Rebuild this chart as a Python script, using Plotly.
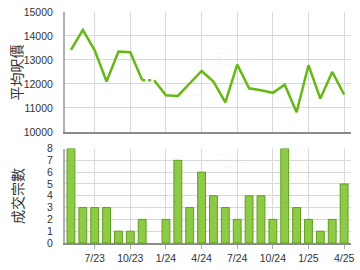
import plotly.graph_objects as go

months = ["5/23", "6/23", "7/23", "8/23", "9/23", "10/23", "11/23", "12/23",
          "1/24", "2/24", "3/24", "4/24", "5/24", "6/24", "7/24", "8/24",
          "9/24", "10/24", "11/24", "12/24", "1/25", "2/25", "3/25", "4/25"]
price = [13420, 14250, 13400, 12100, 13350, 13320, 12150, 12150,
         11530, 11500, 12040, 12540, 12100, 11230, 12810, 11820,
         11740, 11630, 11970, 10820, 12780, 11390, 12500, 11560]
counts = [8, 3, 3, 3, 1, 1, 2, 0, 2, 7, 3, 6, 4, 3, 2, 4, 4, 2, 8, 3, 2, 1, 2, 5]
tick_labels = ["7/23", "10/23", "1/24", "4/24", "7/24", "10/24", "1/25", "4/25"]
price_ticks = [10000, 11000, 12000, 13000, 14000, 15000]
count_ticks = [0, 1, 2, 3, 4, 5, 6, 7, 8]

line_color = "#66b814"
gap_idx = 7  # month with no deals; price carried forward (dotted)

fig = go.Figure()

fig.add_trace(go.Scatter(x=months[:gap_idx], y=price[:gap_idx], mode="lines",
                         line=dict(color=line_color, width=2.5),
                         xaxis="x", yaxis="y", showlegend=False))
fig.add_trace(go.Scatter(x=months[gap_idx:], y=price[gap_idx:], mode="lines",
                         line=dict(color=line_color, width=2.5),
                         xaxis="x", yaxis="y", showlegend=False))
fig.add_trace(go.Scatter(x=months[gap_idx - 1:gap_idx + 1], y=price[gap_idx - 1:gap_idx + 1],
                         mode="lines", line=dict(color=line_color, width=2.5, dash="dot"),
                         xaxis="x", yaxis="y", showlegend=False))

fig.add_trace(go.Bar(x=months, y=counts, width=0.66,
                     marker=dict(color="#8fca46",
                                 line=dict(color="#5e9f1c",
                                           width=[1 if c else 0 for c in counts])),
                     xaxis="x2", yaxis="y2", showlegend=False))

tick_font = dict(family="Liberation Sans, Arial, sans-serif", size=10.5, color="#333333")
xr = [-0.5, 23.58]
common_x = dict(type="category", range=xr, tickmode="array", tickvals=tick_labels,
                showgrid=True, gridcolor="#d9d9d9", gridwidth=1,
                showline=True, linecolor="#8a8a8a", linewidth=2, zeroline=False)
common_y = dict(showgrid=True, gridcolor="#d9d9d9", showline=True, linecolor="#b0b0b0",
                linewidth=2, zeroline=False, ticks="", tickfont=tick_font,
                ticklabelstandoff=8, tickmode="array")

fig.update_layout(
    width=360, height=270,
    margin=dict(l=65, r=6, t=7, b=26),
    paper_bgcolor="white", plot_bgcolor="white",
    font=dict(family="Liberation Sans, Arial, sans-serif", color="#333333"),
    xaxis=dict(**common_x, domain=[0, 1], anchor="y", showticklabels=False, ticks=""),
    xaxis2=dict(**common_x, domain=[0, 1], anchor="y2", ticktext=tick_labels,
                ticks="outside", ticklen=4, tickcolor="#aaaaaa", tickfont=tick_font),
    yaxis=dict(**common_y, domain=[0.481, 1.0], range=[10000, 15000],
               tickvals=price_ticks, ticktext=[str(v) for v in price_ticks]),
    yaxis2=dict(**common_y, domain=[0, 0.409], range=[0, 8],
                tickvals=count_ticks, ticktext=[str(v) for v in count_ticks]),
)

cjk = "Noto Sans CJK TC, Noto Sans CJK SC, sans-serif"
fig.add_annotation(text="平均呎價", xref="paper", yref="paper", x=-0.17, y=0.74,
                   textangle=-90, showarrow=False, xanchor="center", yanchor="middle",
                   font=dict(family=cjk, size=14, color="#333333"))
fig.add_annotation(text="成交宗數", xref="paper", yref="paper", x=-0.17, y=0.205,
                   textangle=-90, showarrow=False, xanchor="center", yanchor="middle",
                   font=dict(family=cjk, size=14, color="#333333"))

for wx, wy in [(0.32, 0.64), (0.59, 0.86), (0.87, 0.62),
               (0.32, 0.12), (0.59, 0.35), (0.87, 0.12)]:
    fig.add_annotation(text="科一", xref="paper", yref="paper", x=wx, y=wy,
                       showarrow=False, font=dict(family=cjk, size=20, color="rgba(0,0,0,0.035)"))

fig.write_html("out.html")
